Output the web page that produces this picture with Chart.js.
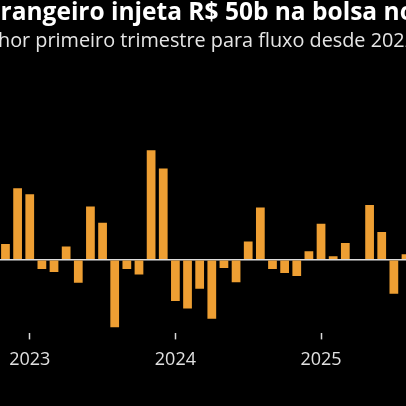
<!DOCTYPE html>
<html>
<head>
<meta charset="utf-8">
<script src="https://cdn.jsdelivr.net/npm/chart.js@4/dist/chart.umd.min.js"></script>
<style>
  html, body { margin: 0; padding: 0; background: #000; width: 406px; height: 406px; overflow: hidden; }
  #wrap { position: absolute; left: -36px; top: 0; width: 452px; height: 406px; }
</style>
</head>
<body>
<div id="wrap"><canvas id="c" width="452" height="406"></canvas></div>
<script>
// Monthly foreign net flow into B3 (R$ bn)
const months = [
  '2022-11','2022-12',
  '2023-01','2023-02','2023-03','2023-04','2023-05','2023-06','2023-07','2023-08','2023-09','2023-10','2023-11','2023-12',
  '2024-01','2024-02','2024-03','2024-04','2024-05','2024-06','2024-07','2024-08','2024-09','2024-10','2024-11','2024-12',
  '2025-01','2025-02','2025-03','2025-04','2025-05','2025-06','2025-07','2025-08'
];
const flows = [
  3.1, 14.1,
  12.9, -1.8, -2.4, 2.6, -4.5, 10.5, 7.3, -13.3, -1.8, -2.9, 21.6, 18.0,
  -8.1, -9.6, -5.7, -11.6, -1.6, -4.4, 3.6, 10.3, -1.8, -2.6, -3.2, 1.7,
  7.1, 0.7, 3.3, 0, 10.8, 5.5, -6.7, 1.1
];
const yearTicks = ['2023', '2024', '2025'];
const titleText = 'Estrangeiro injeta R$ 50b na bolsa no';
const subtitleText = 'Melhor primeiro trimestre para fluxo desde 2022';

const isYearTick = (i) => yearTicks.includes(months[i].slice(0,4)) && months[i].slice(5) === '01';

new Chart(document.getElementById('c'), {
  type: 'bar',
  data: {
    labels: months,
    datasets: [{
      data: flows,
      backgroundColor: '#EE9F33',
      borderWidth: 0,
      barPercentage: 0.72,
      categoryPercentage: 1.0
    }]
  },
  options: {
    responsive: false,
    animation: false,
    devicePixelRatio: 1,
    layout: { padding: { top: 0, right: 0, bottom: 25, left: 0 } },
    plugins: {
      legend: { display: false },
      tooltip: { enabled: false },
      title: {
        display: true,
        text: titleText,
        align: 'start',
        color: '#ffffff',
        font: { family: 'Open Sans', size: 24.5, weight: 'bold', lineHeight: 1.1 },
        padding: { top: 0, bottom: 2 }
      },
      subtitle: {
        display: true,
        text: subtitleText,
        align: 'start',
        color: '#e6e6e6',
        font: { family: 'Open Sans', size: 20, weight: 'normal', lineHeight: 1.2 },
        padding: { top: 0, bottom: 80 }
      }
    },
    scales: {
      x: {
        offset: true,
        border: { display: false },
        grid: {
          display: true,
          offset: false,
          drawOnChartArea: false,
          tickLength: 6,
          tickWidth: 1.5,
          color: (ctx) => (ctx.index !== undefined && isYearTick(ctx.index)) ? '#d9d9d9' : 'rgba(0,0,0,0)'
        },
        ticks: {
          autoSkip: false,
          maxRotation: 0,
          padding: 10,
          color: '#e0e0e0',
          font: { family: 'Open Sans', size: 18 },
          callback: (v, i) => isYearTick(i) ? months[i].slice(0,4) : ''
        }
      },
      y: {
        position: 'left',
        min: -14.5,
        max: 25,
        border: { display: false },
        afterFit: (axis) => { axis.width = 35.4; },
        ticks: { display: false, stepSize: 5 },
        grid: {
          drawTicks: false,
          lineWidth: 1.5,
          color: (ctx) => (ctx.tick && ctx.tick.value === 0) ? '#dcdcdc' : 'rgba(0,0,0,0)'
        }
      }
    }
  }
});
</script>
</body>
</html>
